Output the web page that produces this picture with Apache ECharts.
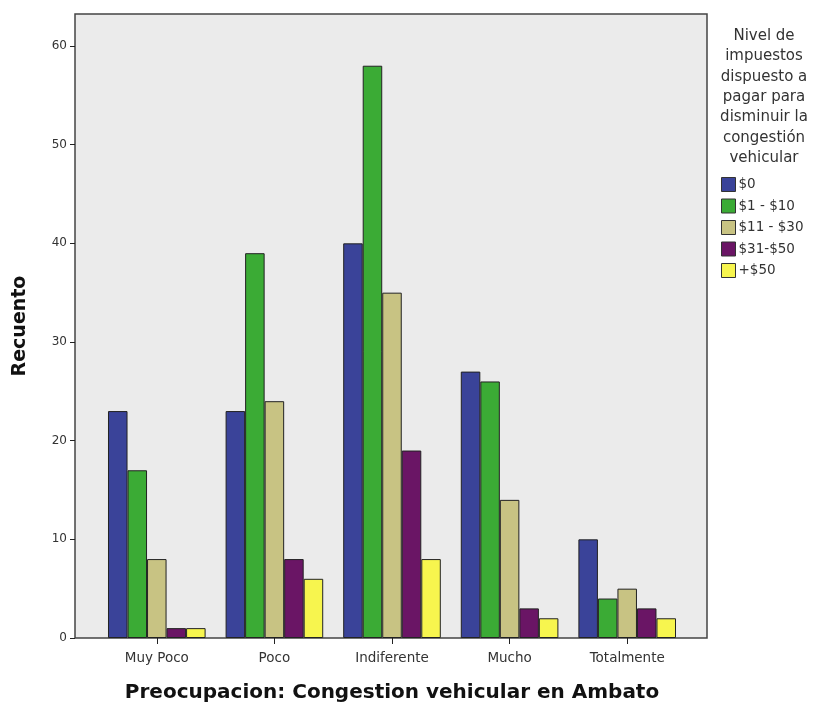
<!DOCTYPE html>
<html><head><meta charset="utf-8">
<script src="https://cdn.jsdelivr.net/npm/echarts@6/dist/echarts.min.js"></script>
<style>html,body{margin:0;padding:0;background:#fff}#c{width:818px;height:707px}</style>
</head><body><div id="c"></div>
<script>
var categories = ['Muy Poco', 'Poco', 'Indiferente', 'Mucho', 'Totalmente'];
var seriesNames = ['$0', '$1 - $10', '$11 - $30', '$31-$50', '+$50'];
var s0 = [23, 23, 40, 27, 10];
var s1 = [17, 39, 58, 26, 4];
var s2 = [8, 24, 35, 14, 5];
var s3 = [1, 8, 19, 3, 3];
var s4 = [1, 6, 8, 2, 2];
var yTicks = [0, 10, 20, 30, 40, 50, 60];
var colors = ['#3a4399', '#3bab35', '#c8c383', '#6a1565', '#f7f54e'];
var legendTitle = 'Nivel de\nimpuestos\ndispuesto a\npagar para\ndisminuir la\ncongestión\nvehicular';

var font = 'DejaVu Sans, Liberation Sans, sans-serif';
var chart = echarts.init(document.getElementById('c'));
var data = [s0, s1, s2, s3, s4];
chart.setOption({
  animation: false,
  textStyle: {fontFamily: font},
  title: {
    text: legendTitle, left: 764, top: 26, textAlign: 'center', padding: 0,
    textStyle: {fontSize: 15, fontWeight: 'normal', color: '#333', lineHeight: 20.3, fontFamily: font}
  },
  legend: {
    orient: 'vertical', left: 721, top: 177, padding: 0, itemWidth: 14, itemHeight: 14, itemGap: 6.5,
    icon: 'rect', data: seriesNames,
    textStyle: {fontSize: 13.5, color: '#333', fontFamily: font, padding: [0,0,0,-2]},
    itemStyle: {borderColor: '#333', borderWidth: 1}
  },
  grid: [
    {left: 75, right: 111, top: 14, bottom: 69, show: true, backgroundColor: '#ebebeb', borderColor: '#444', borderWidth: 1.5, containLabel: false, outerBoundsMode: 'none'},
    {left: 98, right: 132, top: 46, bottom: 69, containLabel: false, outerBoundsMode: 'none'}
  ],
  xAxis: [
    {gridIndex: 0, show: false, type: 'value'},
    {gridIndex: 1, type: 'category', data: categories,
     axisLine: {show: false}, axisTick: {show: true, alignWithLabel: true, length: 6, lineStyle: {color: '#222'}},
     axisLabel: {fontSize: 13.5, color: '#333', margin: 13},
     name: 'Preocupacion: Congestion vehicular en Ambato', nameLocation: 'middle', nameGap: 45,
     nameTextStyle: {fontSize: 20, fontWeight: 'bold', color: '#111'}}
  ],
  yAxis: [
    {gridIndex: 0, type: 'value', min: 0, max: 1,
     axisLine: {show: false}, axisTick: {show: false}, axisLabel: {show: false}, splitLine: {show: false},
     name: 'Recuento', nameLocation: 'middle', nameGap: 45,
     nameTextStyle: {fontSize: 19, fontWeight: 'bold', color: '#111'}},
    {gridIndex: 1, type: 'value', min: 0, max: 60, interval: 10, offset: 23,
     axisLine: {show: false}, splitLine: {show: false},
     axisTick: {show: true, length: 5, lineStyle: {color: '#222'}},
     axisLabel: {fontSize: 12, color: '#333', margin: 8}}
  ],
  series: seriesNames.map(function (n, i) {
    return {
      name: n, type: 'bar', xAxisIndex: 1, yAxisIndex: 1, data: data[i],
      barGap: '0%', barCategoryGap: '17%',
      itemStyle: {color: colors[i], borderColor: '#222', borderWidth: 1}
    };
  })
});
</script></body></html>
